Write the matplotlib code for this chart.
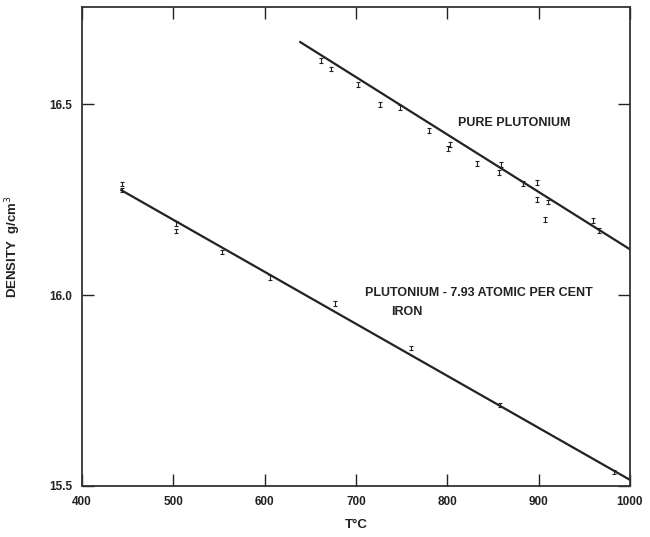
import matplotlib.pyplot as plt

# Masse volumique du plutonium pur et de l'alliage Pu-Fe
T_pur = [662, 673, 702, 726, 748, 780, 801, 803, 832, 857, 859, 883, 898, 898, 907, 910, 960, 966]
D_pur = [16.615, 16.593, 16.552, 16.50, 16.491, 16.432, 16.384, 16.395, 16.345, 16.322, 16.342,
         16.292, 16.295, 16.250, 16.198, 16.244, 16.195, 16.170]

T_fe = [444, 444, 503, 503, 553, 606, 677, 760, 858, 982]
D_fe = [16.291, 16.276, 16.188, 16.168, 16.113, 16.046, 15.978, 15.861, 15.712, 15.537]

# droites ajustées (extrémités)
T_fit_pur = [639, 1000]
D_fit_pur = [16.663, 16.120]
T_fit_fe = [443, 1000]
D_fit_fe = [16.275, 15.516]

x_ticks = [400, 500, 600, 700, 800, 900, 1000]
y_ticks = [15.5, 16.0, 16.5]

encre = "#222222"
plt.rcParams["font.family"] = ["Liberation Sans", "DejaVu Sans"]

fig = plt.figure(figsize=(6.5, 5.37), dpi=100)
ax = fig.add_axes([0.1262, 0.095, 0.843, 0.892])

ax.plot(T_fit_pur, D_fit_pur, color=encre, lw=1.6)
ax.plot(T_fit_fe, D_fit_fe, color=encre, lw=1.6)
ax.errorbar(T_pur, D_pur, yerr=0.006, fmt="none", ecolor=encre, elinewidth=0.8,
            capsize=1.5, capthick=0.8)
ax.errorbar(T_fe, D_fe, yerr=0.006, fmt="none", ecolor=encre, elinewidth=0.8,
            capsize=1.5, capthick=0.8)

ax.text(812, 16.451, "PURE PLUTONIUM", fontsize=9, fontweight="bold", color=encre,
        va="center", ha="left")
ax.text(710, 16.006, "PLUTONIUM - 7.93 ATOMIC PER CENT", fontsize=9, fontweight="bold",
        color=encre, va="center", ha="left")
ax.text(738, 15.956, "IRON", fontsize=9, fontweight="bold", color=encre,
        va="center", ha="left")

ax.set_xlim(400, 1000)
ax.set_ylim(15.5, 16.755)
ax.set_xticks(x_ticks)
ax.set_yticks(y_ticks)
ax.set_yticklabels([f"{v:.1f}" for v in y_ticks])
ax.tick_params(direction="in", length=8.5, width=1.0, color=encre, labelcolor=encre,
               labelsize=8.5, pad=7, top=True, right=True)
for lab in ax.get_xticklabels() + ax.get_yticklabels():
    lab.set_fontweight("bold")
for s in ax.spines.values():
    s.set_linewidth(1.3)
    s.set_color("#333333")

ax.set_xlabel("T°C", fontsize=9.5, fontweight="bold", color=encre)
ax.xaxis.set_label_coords(0.5, -0.068)
ax.set_ylabel("DENSITY  g/cm$^3$", fontsize=9.5, fontweight="bold", color=encre)
ax.yaxis.set_label_coords(-0.108, 0.5)

fig.savefig("out.png", dpi=100)
